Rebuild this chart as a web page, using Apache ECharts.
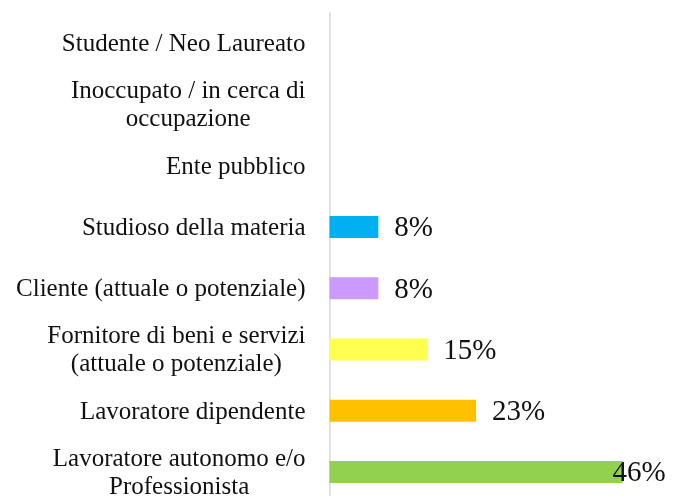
<!DOCTYPE html>
<html>
<head>
<meta charset="utf-8">
<script src="https://cdn.jsdelivr.net/npm/echarts@6/dist/echarts.min.js"></script>
<style>
  html, body { margin: 0; padding: 0; background: #fff; }
  #main { width: 680px; height: 496px; }
</style>
</head>
<body>
<div id="main"></div>
<script>
'use strict';

// categorie, dall'alto verso il basso
var categorie = [
    'Studente / Neo Laureato',
    'Inoccupato / in cerca di\noccupazione',
    'Ente pubblico',
    'Studioso della materia',
    'Cliente (attuale o potenziale)',
    'Fornitore di beni e servizi\n(attuale o potenziale)',
    'Lavoratore dipendente',
    'Lavoratore autonomo e/o\nProfessionista'
];
// percentuali (null = nessuna risposta)
var valori = [null, null, null, 7.69, 7.69, 15.38, 23.08, 46.15];
var colori = ['#00B0F0', '#00B0F0', '#00B0F0', '#00B0F0', '#CC99FF', '#FFFF4F', '#FFC000', '#92D050'];

var myChart = echarts.init(document.getElementById('main'));

var dati = valori.map(function (v, i) {
    var d = { value: v, itemStyle: { color: colori[i] } };
    if (i === valori.length - 1) {
        d.label = { offset: [-26, 2] };
    }
    return d;
});

var option = {
    animation: false,
    textStyle: { fontFamily: '"Liberation Serif", serif' },
    grid: { left: 329.5, top: 12.5, width: 317.5, height: 490, outerBoundsMode: 'none', containLabel: false },
    xAxis: {
        type: 'value',
        min: 0,
        max: 50,
        show: false
    },
    yAxis: {
        type: 'category',
        inverse: true,
        data: categorie,
        axisLine: { show: true, lineStyle: { color: '#D9D9D9', width: 1.5 } },
        axisTick: { show: false },
        splitLine: { show: false },
        axisLabel: {
            margin: 24,
            color: '#111',
            fontSize: 25,
            lineHeight: 28,
            fontFamily: '"Liberation Serif", serif',
            formatter: function (v) { return '{c|' + v.split('\n').join('}\n{c|') + '}'; },
            rich: { c: { align: 'center', fontSize: 25, lineHeight: 28, padding: [3, 0, 0, 0], color: '#111', fontFamily: '"Liberation Serif", serif' } }
        }
    },
    series: [
        {
            type: 'bar',
            data: dati,
            barWidth: 22,
            label: {
                show: true,
                position: 'right',
                distance: 16,
                offset: [0, 2],
                color: '#111',
                fontSize: 29,
                fontFamily: '"Liberation Serif", serif',
                formatter: function (p) { return Math.round(p.value) + '%'; }
            }
        }
    ]
};

myChart.setOption(option);
</script>
</body>
</html>
